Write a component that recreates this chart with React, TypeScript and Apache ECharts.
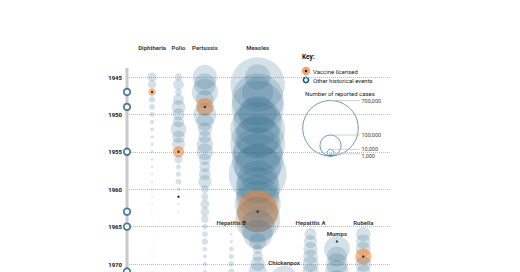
import React, { useEffect, useRef } from 'react';
import * as echarts from 'echarts';

// Columns (category order, left to right)
const diseases = ['Diphtheria', 'Polio', 'Pertussis', 'Hepatitis B', 'Measles', 'Chickenpox', 'Hepatitis A', 'Mumps', 'Rubella'];

// Reported cases per year
const years = [1945, 1946, 1947, 1948, 1949, 1950, 1951, 1952, 1953, 1954, 1955, 1956, 1957, 1958, 1959, 1960, 1961, 1962, 1963, 1964, 1965, 1966, 1967, 1968, 1969, 1970, 1971, 1972];
const diphtheria = [18675, 16069, 12262, 9493, 7969, 5796, 3983, 2960, 2355, 2041, 1984, 1568, 1211, 918, 934, 918, 617, 444, 314, 293, 164, 209, 219, 260, 241, 435, 215, 152];
const polio = [13624, 25698, 10827, 27726, 42033, 33300, 28386, 57879, 35592, 38476, 28985, 15140, 5485, 5787, 8425, 3190, 1312, 910, 449, 122, 72, 113, 41, 53, 20, 33, 21, 31];
const pertussis = [133792, 109873, 156517, 74715, 69479, 120718, 68687, 45030, 37129, 60886, 62786, 31732, 28295, 32148, 40005, 14809, 11468, 17749, 17135, 13005, 6799, 7717, 9718, 4810, 3285, 4249, 3036, 3287];
const measles = [146013, 669970, 222375, 615104, 625281, 319124, 530118, 683077, 449146, 682720, 555156, 611936, 486799, 763094, 406162, 441703, 423919, 481530, 385156, 458083, 261904, 204136, 62705, 22231, 25826, 47351, 75290, 32275];
const yearsFrom1966 = [1966, 1967, 1968, 1969, 1970, 1971, 1972];
const hepatitisB = [1497, 2458, 4829, 5909, 8310, 9556, 9402];
const hepatitisA = [32859, 38909, 45893, 48416, 56797, 59606, 54074];
const rubella = [46975, 46888, 49371, 57686, 56552, 45086, 25507];
const yearsFrom1968 = [1968, 1969, 1970, 1971, 1972];
const mumps = [152209, 90918, 104953, 124939, 74215];
const chickenpoxYears = [1972];
const chickenpox = [164114];

// Vaccine licensed: [disease, year]
const vaccines: [string, number][] = [
  ['Diphtheria', 1947], ['Pertussis', 1949], ['Polio', 1955], ['Polio', 1961],
  ['Measles', 1963], ['Mumps', 1967], ['Rubella', 1969],
];
// Other historical events (on the time line)
const eventYears = [1947, 1949, 1955, 1963, 1965, 1971];

// Column title positions (year at which the title sits)
const titleYears = [1941, 1941, 1941, 1964.4, 1941, 1969.8, 1964.5, 1965.9, 1964.5];

// Size key values
const keyValues = [700000, 100000, 10000, 1000];
const keyLabels = ['700,000', '100,000', '10,000', '1,000'];

const MAX_R = 27.75;
const REF = 700000;
const diam = (v: number) => 2 * MAX_R * Math.sqrt(Math.max(v, 0) / REF);

const BLUE = 'rgba(43,106,142,0.25)';
const ORANGE = 'rgba(240,130,50,0.72)';
const RING = '#1d5b85';
const AXIS_X = -0.95;
const FONT = 'Roboto, "Noto Sans", sans-serif';

function buildSeries(name: string, yrs: number[], vals: number[]) {
  const col = diseases.indexOf(name);
  const vacYears = vaccines.filter((v) => v[0] === name).map((v) => v[1]);
  const data: any[] = [];
  yrs.forEach((y, i) => {
    const item: any = { value: [col, y, vals[i]] };
    if (vacYears.includes(y)) item.itemStyle = { color: ORANGE };
    data.push(item);
  });
  vacYears.forEach((y) => {
    if (!yrs.includes(y)) data.push({ value: [col, y, 0], itemStyle: { color: ORANGE } });
  });
  data.sort((a, b) => a.value[1] - b.value[1]);
  return {
    type: 'scatter',
    name,
    data,
    clip: false,
    symbol: 'circle',
    symbolSize: (v: number[]) => diam(v[2]),
    itemStyle: { color: BLUE },
    silent: true,
    z: 2,
  };
}

export default function App() {
  const ref = useRef<HTMLDivElement>(null);
  useEffect(() => {
    if (!ref.current) return;
    const chart = echarts.init(ref.current, null, { renderer: 'svg' });

    const dataSeries = [
      buildSeries('Diphtheria', years, diphtheria),
      buildSeries('Polio', years, polio),
      buildSeries('Pertussis', years, pertussis),
      buildSeries('Measles', years, measles),
      buildSeries('Hepatitis B', yearsFrom1966, hepatitisB),
      buildSeries('Hepatitis A', yearsFrom1966, hepatitisA),
      buildSeries('Rubella', yearsFrom1966, rubella),
      buildSeries('Mumps', yearsFrom1968, mumps),
      buildSeries('Chickenpox', chickenpoxYears, chickenpox),
    ];

    // size key graphics
    const cx = 330.5;
    const bottom = 156;
    const keyEls: any[] = [];
    let prevLabelY = -100;
    keyValues.forEach((v, i) => {
      const r = diam(v) / 2;
      const top = bottom - 2 * r;
      keyEls.push({ type: 'circle', shape: { cx, cy: bottom - r, r }, style: { fill: 'none', stroke: '#4583aa', lineWidth: 0.8 }, silent: true });
      keyEls.push({ type: 'line', shape: { x1: cx, y1: top, x2: 360, y2: top }, style: { stroke: '#bdbdbd', lineWidth: 0.7 }, silent: true });
      const ly = Math.max(top, prevLabelY + 7);
      prevLabelY = ly;
      keyEls.push({ type: 'text', x: 361.5, y: ly, style: { text: keyLabels[i], fill: '#444', fontSize: 5.5, fontFamily: FONT, verticalAlign: 'middle', align: 'left' }, silent: true });
    });

    const option: any = {
      animation: false,
      grid: { left: 127, top: 77, width: 262.7, height: 261.8, containLabel: false, outerBoundsMode: 'none' },
      xAxis: { type: 'value', min: AXIS_X, max: 9, show: false },
      yAxis: {
        type: 'value', inverse: true, min: 1945, max: 1980, interval: 5,
        axisLine: { show: false }, axisTick: { show: false },
        axisLabel: {
          show: true, fontSize: 6, fontWeight: 'bold', color: '#111', margin: 5, fontFamily: FONT,
          formatter: (v: number) => (v > 1970 ? '' : String(v)),
        },
        splitLine: { show: true, lineStyle: { type: 'dotted', color: '#bbb', width: 1 } },
      },
      series: [
        {
          type: 'line', data: [[AXIS_X, 1943.8], [AXIS_X, 1980]], clip: false, symbol: 'none',
          lineStyle: { color: '#cacaca', width: 3 }, silent: true, z: 1,
        },
        ...dataSeries,
        {
          type: 'scatter', name: 'vaccineDots', clip: false, silent: true, z: 5,
          data: vaccines.map((v) => [diseases.indexOf(v[0]), v[1]]),
          symbolSize: 2.4, itemStyle: { color: '#111' },
        },
        {
          type: 'scatter', name: 'events', clip: false, silent: true, z: 6,
          data: eventYears.map((y) => [AXIS_X, y]),
          symbolSize: 6.5, itemStyle: { color: '#fff', borderColor: RING, borderWidth: 1.8 },
        },
        {
          type: 'scatter', name: 'titles', clip: false, silent: true, z: 7,
          data: diseases.map((d, i) => ({ name: d, value: [i, titleYears[i]] })),
          symbolSize: 0,
          itemStyle: { color: '#000' },
          label: {
            show: true, position: 'inside', formatter: (p: any) => p.name,
            fontSize: 6, fontWeight: 'bold', color: '#000', fontFamily: FONT,
            textBorderWidth: 0,
          },
        },
      ],
      graphic: [
        { type: 'text', x: 302, y: 57, style: { text: 'Key:', fill: '#111', fontSize: 6.5, fontWeight: 'bold', fontFamily: FONT, verticalAlign: 'middle' }, silent: true },
        { type: 'circle', shape: { cx: 306, cy: 71, r: 4.2 }, style: { fill: ORANGE }, silent: true },
        { type: 'circle', shape: { cx: 306, cy: 71, r: 1.2 }, style: { fill: '#111' }, silent: true },
        { type: 'text', x: 313, y: 71, style: { text: 'Vaccine licensed', fill: '#222', fontSize: 6, fontFamily: FONT, verticalAlign: 'middle' }, silent: true },
        { type: 'circle', shape: { cx: 306, cy: 80, r: 2.6 }, style: { fill: '#fff', stroke: RING, lineWidth: 1.6 }, silent: true },
        { type: 'text', x: 313, y: 80, style: { text: 'Other historical events', fill: '#222', fontSize: 6, fontFamily: FONT, verticalAlign: 'middle' }, silent: true },
        { type: 'text', x: 305, y: 93.5, style: { text: 'Number of reported cases', fill: '#222', fontSize: 6, fontFamily: FONT, verticalAlign: 'middle' }, silent: true },
        ...keyEls,
      ],
    };
    chart.setOption(option);
    return () => chart.dispose();
  }, []);
  return (
    <div style={{ position: 'fixed', left: 0, top: 0, width: 520, height: 272, overflow: 'hidden', background: '#fff' }}>
      <div ref={ref} style={{ width: 520, height: 345 }} />
    </div>
  );
}
